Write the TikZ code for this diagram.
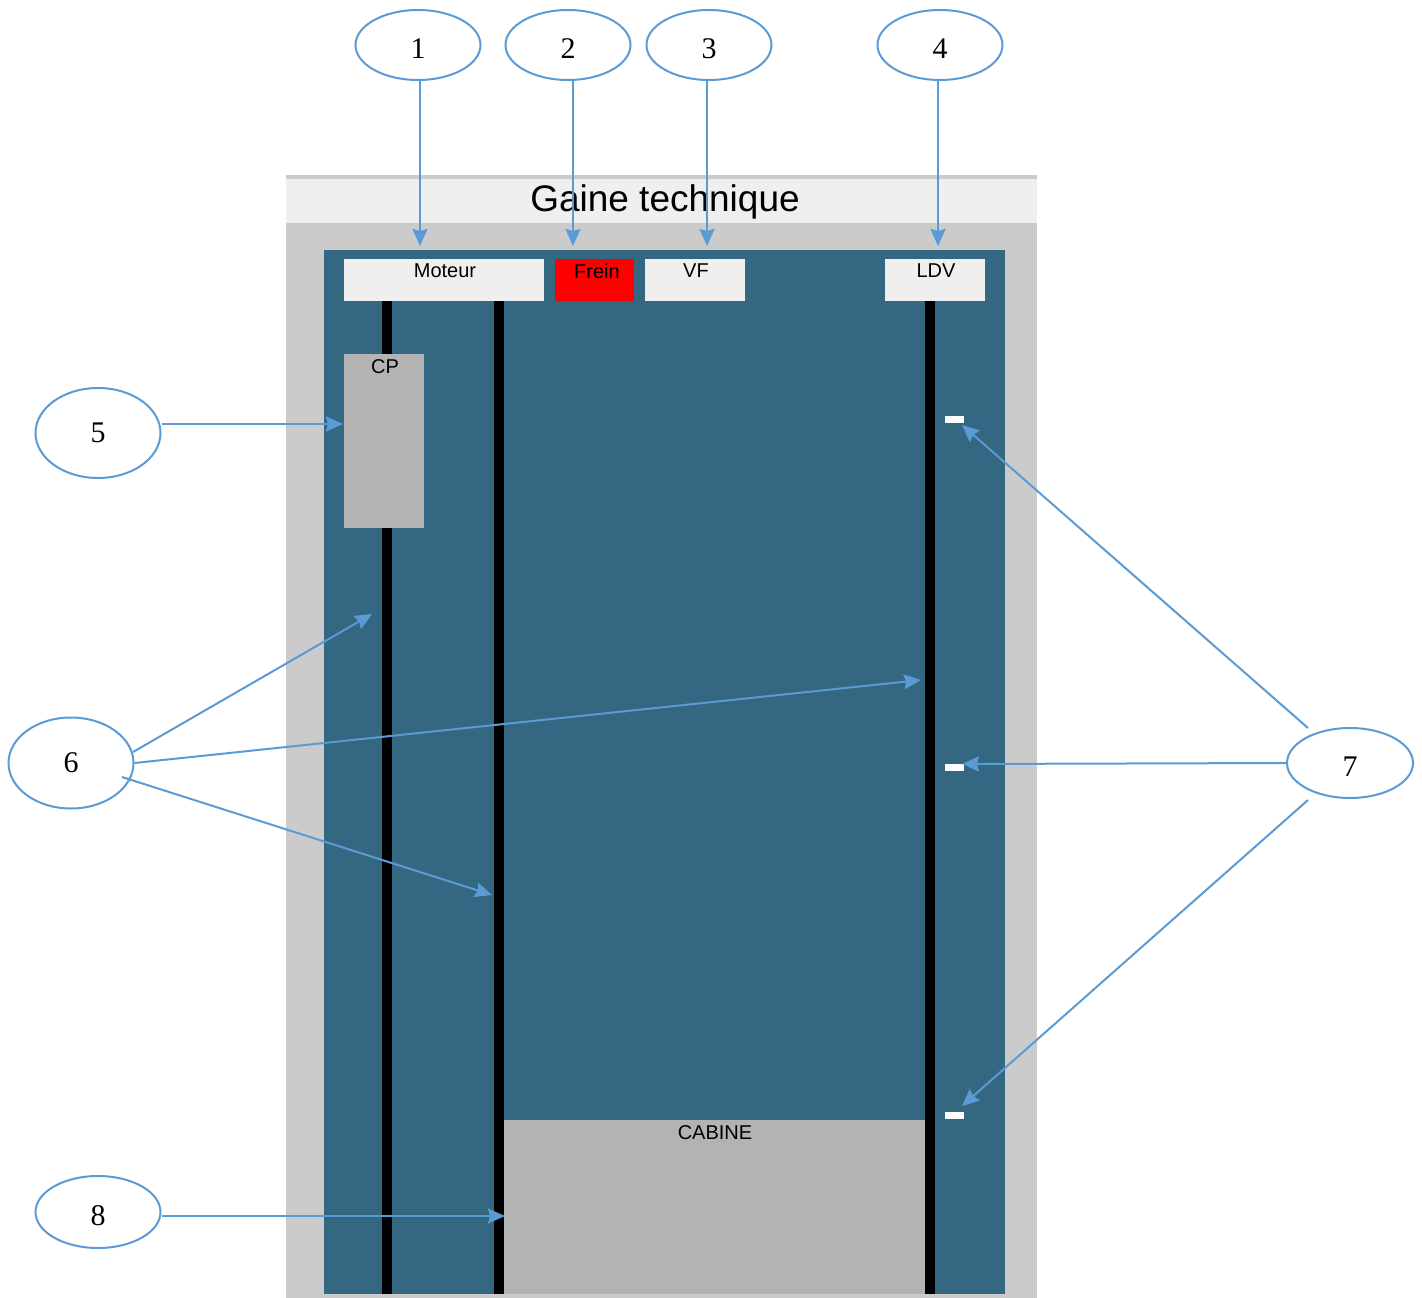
\documentclass[tikz,border=0pt]{standalone}
\usepackage{fontspec}
\setmainfont{Liberation Serif}
\newfontfamily\arialfont{Liberation Sans}
\usetikzlibrary{shapes.geometric,arrows.meta}
\definecolor{shaftblue}{RGB}{51,103,130}
\definecolor{framegray}{RGB}{203,203,203}
\definecolor{titlegray}{RGB}{239,239,239}
\definecolor{partgray}{RGB}{179,179,179}
\definecolor{calloutblue}{RGB}{91,155,213}
\begin{document}
\begin{tikzpicture}[x=1pt,y=-1pt,
  callout/.style={ellipse,draw=calloutblue,line width=2pt,fill=white,
    minimum width=125pt,minimum height=70pt,inner sep=0pt},
  num/.style={label={[font=\fontsize{30}{30}\selectfont,yshift=-3.5pt]center:#1}},
  numc/.style={label={[font=\fontsize{30}{30}\selectfont]center:#1}},
  pointer/.style={draw=calloutblue,line width=2pt,
    -{Stealth[length=17pt,width=15pt,inset=2pt]}},
  partlabel/.style={font=\arialfont\fontsize{20}{20}\selectfont},
  rail/.style={fill=black},
  marker/.style={fill=white,draw=none,minimum width=19pt,minimum height=7pt,inner sep=0pt}]
\useasboundingbox (0,0) rectangle (1422,1298);

% shaft housing with title band
\fill[framegray] (286,175) rectangle (1037,1298);
\fill[titlegray] (286,179) rectangle (1037,223);
\node[font=\arialfont\fontsize{37}{37}\selectfont] (title) at (665,202) {Gaine technique};
\fill[shaftblue] (324,250) rectangle (1005,1294);

% guide rails
\fill[rail] (382,301) rectangle (392,1294);
\fill[rail] (494,301) rectangle (504,1294);
\fill[rail] (925,301) rectangle (935,1294);

% equipment at the top of the shaft
\node[fill=titlegray,minimum width=200pt,minimum height=42pt,anchor=north west,inner sep=0pt] (moteur) at (344,259) {};
\node[partlabel] at (445,271) {Moteur};
\node[fill=red,minimum width=79pt,minimum height=42pt,anchor=north west,inner sep=0pt] (frein) at (555,259) {};
\node[partlabel] at (597,271) {Frein};
\node[fill=titlegray,minimum width=100pt,minimum height=42pt,anchor=north west,inner sep=0pt] (vf) at (645,259) {};
\node[partlabel] at (696,271) {VF};
\node[fill=titlegray,minimum width=100pt,minimum height=42pt,anchor=north west,inner sep=0pt] (ldv) at (885,259) {};
\node[partlabel] at (936,271) {LDV};

% counterweight
\node[fill=partgray,minimum width=80pt,minimum height=174pt,anchor=north west,inner sep=0pt] (cp) at (344,354) {};
\node[partlabel] at (385,367) {CP};

% car
\node[fill=partgray,minimum width=421pt,minimum height=174pt,anchor=north west,inner sep=0pt] (cabine) at (504,1120) {};
\node[partlabel] at (715,1133) {CABINE};

% floor level markers
\node[marker] (m1) at (954.5,419.5) {};
\node[marker] (m2) at (954.5,767.5) {};
\node[marker] (m3) at (954.5,1115.5) {};

% callouts
\node[callout,num=1] (c1) at (418,45) {};
\node[callout,num=2] (c2) at (568,45) {};
\node[callout,num=3] (c3) at (709,45) {};
\node[callout,num=4] (c4) at (940,45) {};
\node[callout,numc=5,minimum height=90pt] (c5) at (98,433) {};
\node[callout,numc=6,minimum height=91pt] (c6) at (71,763) {};
\node[callout,num=7,minimum width=126pt] (c7) at (1350,763) {};
\node[callout,num=8,minimum height=72pt] (c8) at (98,1212) {};

% pointer ends
\coordinate (p1) at (420,246);
\coordinate (p2) at (573,246);
\coordinate (p3) at (707,246);
\coordinate (p4) at (938,246);
\coordinate (p5) at (343,424);
\coordinate (p6a) at (372,614);
\coordinate (p6b) at (921,680);
\coordinate (p6c) at (492,895);
\coordinate (p7a) at (962,425);
\coordinate (p7b) at (962,764);
\coordinate (p7c) at (962,1106);
\coordinate (p8) at (505,1216);

\draw[pointer] (420,80) -- (p1);
\draw[pointer] (573,80) -- (p2);
\draw[pointer] (707,80) -- (p3);
\draw[pointer] (938,80) -- (p4);
\draw[pointer] (c5.east |- p5) -- (p5);
\draw[pointer] (133,752) -- (p6a);
\draw[pointer] (c6.east) -- (p6b);
\draw[pointer] (122,777) -- (p6c);
\draw[pointer] (1308,728) -- (p7a);
\draw[pointer] (c7.west) -- (p7b);
\draw[pointer] (1308,800) -- (p7c);
\draw[pointer] (c8.east |- p8) -- (p8);
\end{tikzpicture}
\end{document}
